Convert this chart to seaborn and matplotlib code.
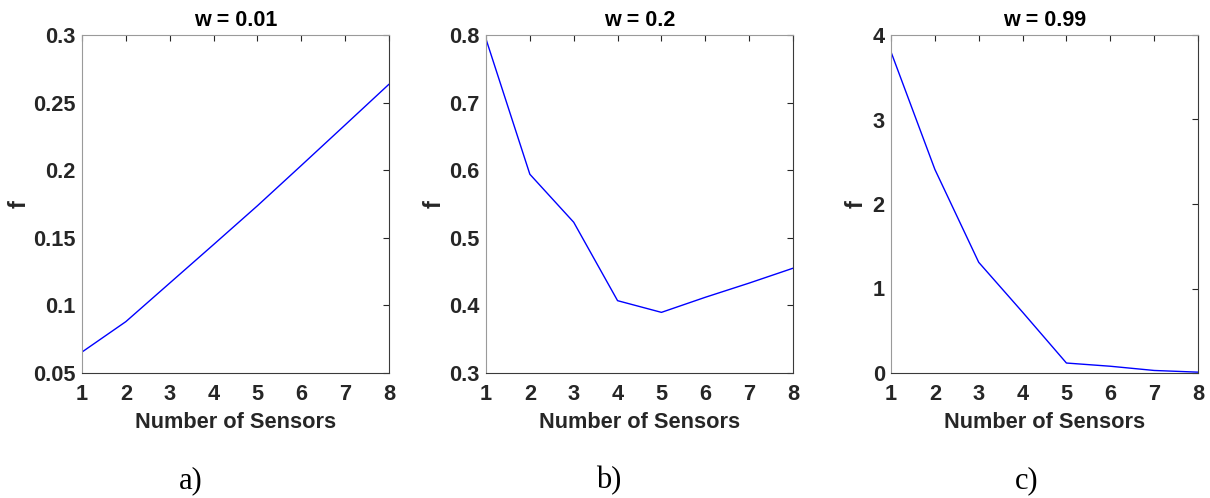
import matplotlib
matplotlib.use("Agg")
import matplotlib.pyplot as plt
import seaborn as sns
import pandas as pd

sensors = [1, 2, 3, 4, 5, 6, 7, 8]
f_w001 = [0.0655, 0.088, 0.1165, 0.145, 0.1737, 0.2035, 0.2335, 0.2636]
f_w02 = [0.794, 0.594, 0.523, 0.407, 0.3897, 0.412, 0.433, 0.455]
f_w099 = [3.80, 2.41, 1.31, 0.72, 0.118, 0.08, 0.03, 0.01]
titles = ["w = 0.01", "w = 0.2", "w = 0.99"]
panel_labels = ["a)", "b)", "c)"]
ylims = [(0.05, 0.3), (0.3, 0.8), (0, 4)]
yticks = [[0.05, 0.1, 0.15, 0.2, 0.25, 0.3],
          [0.3, 0.4, 0.5, 0.6, 0.7, 0.8],
          [0, 1, 2, 3, 4]]
ytick_labels = [["0.05", "0.1", "0.15", "0.2", "0.25", "0.3"],
                ["0.3", "0.4", "0.5", "0.6", "0.7", "0.8"],
                ["0", "1", "2", "3", "4"]]

sns.set_style("white")
plt.rcParams["font.family"] = ["Liberation Sans", "DejaVu Sans"]

fig = plt.figure(figsize=(12.1, 4.98), dpi=100)
lefts = [82, 486, 891]
ylabel_x = [31, 446, 868]
label_x = [191, 609, 1027]
W, H = 1210, 498
series = [f_w001, f_w02, f_w099]
dark = "#262626"
FS = 15.7

for i in range(3):
    ax = fig.add_axes([lefts[i] / W, (H - 373) / H, 307 / W, 338 / H])
    df = pd.DataFrame({"n": sensors, "f": series[i]})
    sns.lineplot(data=df, x="n", y="f", ax=ax, color="#0000ff", linewidth=1)
    ax.set_xlim(1, 8)
    ax.set_ylim(*ylims[i])
    ax.set_xticks(sensors)
    ax.set_xticklabels([str(s) for s in sensors])
    ax.set_yticks(yticks[i])
    ax.set_yticklabels(ytick_labels[i])
    ax.tick_params(direction="in", length=4, width=0.8, colors=dark,
                   top=True, right=True, labelsize=FS)
    ax.tick_params(axis="x", pad=8)
    ax.tick_params(axis="y", pad=4.5)
    for lab in ax.get_xticklabels() + ax.get_yticklabels():
        lab.set_fontweight("bold")
    for name, sp in ax.spines.items():
        sp.set_visible(True)
        sp.set_linewidth(0.8)
        sp.set_color("#9a9a9a" if name in ("left", "top") else "#3a3a3a")
    ax.set_xlabel("Number of Sensors", fontsize=FS, fontweight="bold", color=dark)
    ax.xaxis.set_label_coords(0.5, -0.115)
    ax.set_ylabel("f", fontsize=17, fontweight="bold", color=dark)
    ax.yaxis.set_label_coords((ylabel_x[i] - lefts[i]) / 307, 0.5)
    ax.set_title(titles[i], fontsize=15.5, fontweight="bold", color="black", pad=6.5)
    fig.text(label_x[i] / W, 1 - 481 / H, panel_labels[i], fontsize=22,
             family="Liberation Serif", ha="center", va="center", color="black")

fig.savefig("out.png", dpi=100)
